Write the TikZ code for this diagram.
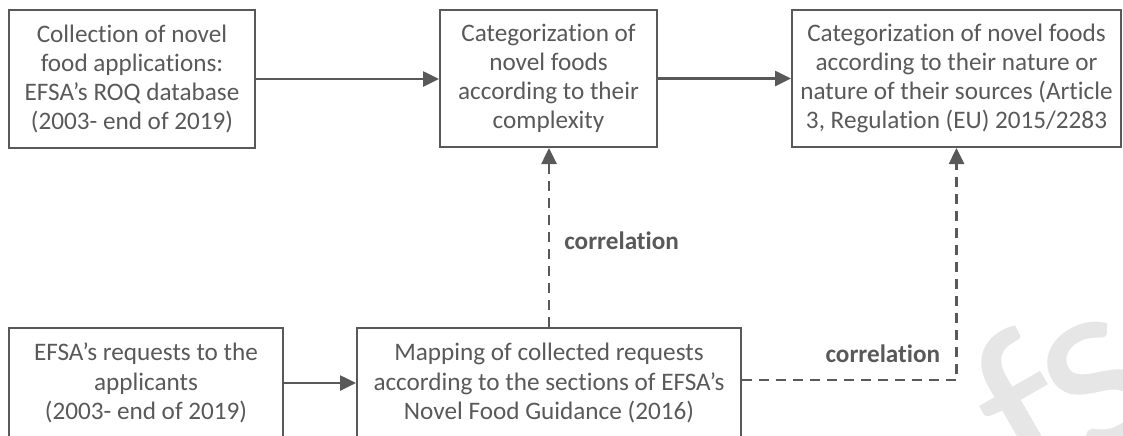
\documentclass[tikz,border=0pt]{standalone}
\usepackage{fontspec}
\setmainfont{Carlito}[Ligatures=NoCommon]
\usetikzlibrary{arrows.meta}

\definecolor{txtgray}{HTML}{595959}
\definecolor{wmgray}{HTML}{E6E6E6}

\tikzset{
	stagebox/.style={draw=txtgray,line width=1pt,inner sep=0pt,align=center,text=txtgray,font=\fontsize{12.6}{14.6}\selectfont},
	flow/.style={draw=txtgray,line width=1.3pt,-{Triangle[length=8pt,width=7.5pt]}},
	corr/.style={flow,dash pattern=on 5pt off 3.5pt},
	corrlabel/.style={inner sep=0pt,text=txtgray,font=\fontsize{12.6}{14.6}\selectfont\bfseries},
	watermark/.style={rotate=30,inner sep=0pt,text=wmgray,font=\fontsize{125}{125}\selectfont}
}

\begin{document}
\begin{tikzpicture}[x=0.5pt,y=-0.5pt]
			\useasboundingbox (0,0) rectangle (1123,435);
			
			\node[watermark] (wmf) at (1026,416) {f};
			\node[watermark] (wms) at (1098,384) {s};
			
			\node[stagebox,minimum width=123pt,minimum height=69pt] (collect) at (132,79) {Collection of novel\\food applications:\\EFSA’s ROQ database\\(2003- end of 2019)};
			\node[stagebox,minimum width=108.5pt,minimum height=68.5pt] (complex) at (548.5,78.5) {Categorization of\\novel foods\\according to their\\complexity};
			\node[stagebox,minimum width=164.5pt,minimum height=68.5pt] (nature) at (956.5,78.5) {Categorization of novel foods\\according to their nature or\\nature of their sources (Article\\3, Regulation (EU) 2015/2283};
			
			\node[stagebox,minimum width=137pt,minimum height=55pt] (requests) at (146,383) {EFSA’s requests to the\\applicants\\(2003- end of 2019)};
			\node[stagebox,minimum width=192pt,minimum height=55pt] (mapping) at (549,383) {Mapping of collected requests\\according to the sections of EFSA’s\\Novel Food Guidance (2016)};
			
			\draw[flow] (collect.east) -- (collect.east -| complex.west);
			\draw[flow] (complex.east) -- (complex.east -| nature.west);
			\draw[flow] (requests.east) -- (requests.east -| mapping.west);
			
			\draw[corr] (mapping.north) -- (mapping.north |- complex.south) node[corrlabel,midway,anchor=west,xshift=7pt,yshift=-1.5pt] {correlation};
			\draw[corr] ([yshift=1.5pt]mapping.east) -| (nature.south) node[corrlabel,pos=0.5,anchor=south east,xshift=-7.5pt,yshift=8pt] {correlation};
\end{tikzpicture}
\end{document}
